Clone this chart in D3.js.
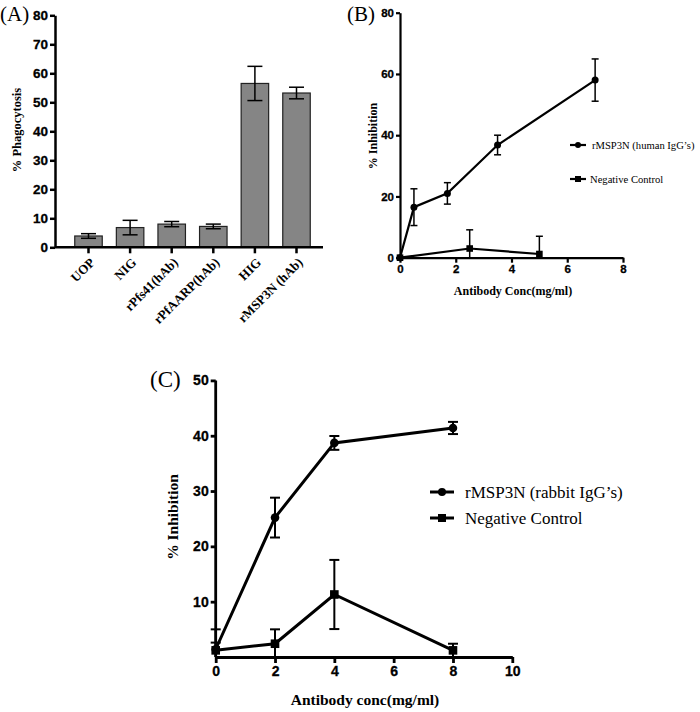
<!DOCTYPE html>
<html>
<head>
<meta charset="utf-8">
<script src="https://cdn.jsdelivr.net/npm/d3@7"></script>
<style>
  html, body { margin: 0; padding: 0; background: #fff; }
  svg { display: block; }
</style>
</head>
<body>
<svg id="chart" width="700" height="712"></svg>
<script>
// ---------- Data ----------
// Panel A
const categoriesA = ["UOP", "NIG", "rPfs41(hAb)", "rPfAARP(hAb)", "HIG", "rMSP3N (hAb)"];
const phagocytosis = [3.9, 6.8, 8.0, 7.2, 56.5, 53.2];
const phagocytosisErr = [0.8, 2.5, 0.9, 0.8, 5.9, 2.0];
const ticksA = [0, 10, 20, 30, 40, 50, 60, 70, 80];

// Panel B
const concHumanB = [0, 0.5, 1.7, 3.5, 7];
const inhibHumanB = [0, 16.5, 21.0, 36.8, 58.0];
const errHumanB = [0, 6.0, 3.5, 3.2, 6.9];
const concNegB = [0, 2.5, 5];
const inhibNegB = [0, 3.0, 1.2];
const errNegB = [0, 6.1, 5.8];
const xTicksB = [0, 2, 4, 6, 8];
const yTicksB = [0, 20, 40, 60, 80];
const seriesNamesB = ["rMSP3N (human IgG\u2019s)", "Negative Control"];

// Panel C
const concC = [0, 2, 4, 8];
const inhibRabbitC = [1.4, 25.2, 38.7, 41.4];
const errRabbitC = [3.6, 3.6, 1.25, 1.1];
const inhibNegC = [1.2, 2.4, 11.3, 1.2];
const errNegC = [1.4, 2.6, 6.25, 1.2];
const xTicksC = [0, 2, 4, 6, 8, 10];
const yTicksC = [10, 20, 30, 40, 50];
const seriesNamesC = ["rMSP3N (rabbit IgG\u2019s)", "Negative Control"];

const SERIF = "'Liberation Serif', 'Times New Roman', serif";
const SANS = "'Liberation Sans', Arial, sans-serif";
const svg = d3.select("#chart");

// ---------- helpers ----------
function styleAxis(g, width, fontSize) {
  g.select(".domain").attr("stroke", "#000").attr("stroke-width", width);
  g.selectAll(".tick line").attr("stroke", "#000").attr("stroke-width", width);
  g.selectAll(".tick text")
    .attr("font-family", SANS).attr("font-weight", "bold")
    .attr("font-size", fontSize).attr("fill", "#000")
    .attr("stroke", "#000").attr("stroke-width", 0.3);
}

function serifText(g, size, bold) {
  return g.append("text").attr("font-family", SERIF).attr("font-size", size)
    .attr("font-weight", bold ? "bold" : "normal").attr("fill", "#000");
}

function drawSeries(g, xs, ys, errs, x, y, opt) {
  const pts = xs.map((d, i) => ({ x: d, y: ys[i], e: errs[i] }));
  g.append("path")
    .datum(pts)
    .attr("fill", "none")
    .attr("stroke", "#000")
    .attr("stroke-width", opt.lw)
    .attr("d", d3.line().x(d => x(d.x)).y(d => y(d.y)));
  pts.forEach(p => {
    if (!p.e) return;
    const top = p.y + p.e, bot = Math.max(0, p.y - p.e);
    const cx = x(p.x);
    g.append("line").attr("x1", cx).attr("x2", cx).attr("y1", y(top)).attr("y2", y(bot))
      .attr("stroke", "#000").attr("stroke-width", opt.ew);
    g.append("line").attr("x1", cx - opt.cap).attr("x2", cx + opt.cap).attr("y1", y(top)).attr("y2", y(top))
      .attr("stroke", "#000").attr("stroke-width", opt.ew);
    if (p.y - p.e >= 0) {
      g.append("line").attr("x1", cx - opt.cap).attr("x2", cx + opt.cap).attr("y1", y(bot)).attr("y2", y(bot))
        .attr("stroke", "#000").attr("stroke-width", opt.ew);
    }
  });
  pts.forEach(p => {
    if (opt.shape === "circle") {
      g.append("circle").attr("cx", x(p.x)).attr("cy", y(p.y)).attr("r", opt.ms).attr("fill", "#000");
    } else {
      g.append("rect").attr("x", x(p.x) - opt.ms).attr("y", y(p.y) - opt.ms)
        .attr("width", opt.ms * 2).attr("height", opt.ms * 2).attr("fill", "#000");
    }
  });
}

function legendItem(g, x0, x1, yy, shape, ms, lw, label, tx, fs) {
  g.append("line").attr("x1", x0).attr("x2", x1).attr("y1", yy).attr("y2", yy)
    .attr("stroke", "#000").attr("stroke-width", lw);
  const cx = (x0 + x1) / 2;
  if (shape === "circle") g.append("circle").attr("cx", cx).attr("cy", yy).attr("r", ms).attr("fill", "#000");
  else g.append("rect").attr("x", cx - ms).attr("y", yy - ms).attr("width", ms * 2).attr("height", ms * 2).attr("fill", "#000");
  serifText(g, fs, false).attr("x", tx).attr("y", yy).attr("dy", "0.35em").text(label);
}

// ---------- Panel A ----------
{
  const g = svg.append("g");
  const y = d3.scaleLinear().domain([0, 80]).range([247.3, 15.3]);
  const x = d3.scalePoint().domain(categoriesA).range([88.5, 296.5]);
  const bw = 27.5;

  g.selectAll("rect.bar").data(categoriesA).enter().append("rect")
    .attr("class", "bar")
    .attr("x", d => x(d) - bw / 2)
    .attr("width", bw)
    .attr("y", (d, i) => y(phagocytosis[i]))
    .attr("height", (d, i) => y(0) - y(phagocytosis[i]))
    .attr("fill", "#858585")
    .attr("stroke", "#222")
    .attr("stroke-width", 1.2);

  categoriesA.forEach((c, i) => {
    const cx = x(c), t = phagocytosis[i] + phagocytosisErr[i], b = phagocytosis[i] - phagocytosisErr[i];
    g.append("line").attr("x1", cx).attr("x2", cx).attr("y1", y(t)).attr("y2", y(b)).attr("stroke", "#000").attr("stroke-width", 1.5);
    [t, b].forEach(v => g.append("line").attr("x1", cx - 7.5).attr("x2", cx + 7.5).attr("y1", y(v)).attr("y2", y(v)).attr("stroke", "#000").attr("stroke-width", 1.5));
  });

  const ya = g.append("g").attr("transform", "translate(55,0)")
    .call(d3.axisLeft(y).tickValues(ticksA).tickSize(5).tickSizeOuter(0).tickPadding(2));
  styleAxis(ya, 2.5, 13.5);

  g.append("line").attr("x1", 55).attr("x2", 323).attr("y1", y(0)).attr("y2", y(0)).attr("stroke", "#000").attr("stroke-width", 2.5);
  categoriesA.forEach(c => {
    g.append("line").attr("x1", x(c)).attr("x2", x(c)).attr("y1", y(0)).attr("y2", y(0) + 6).attr("stroke", "#000").attr("stroke-width", 2.5);
    serifText(g, 13, true)
      .attr("text-anchor", "end")
      .attr("transform", `translate(${x(c) + 7},${y(0) + 16}) rotate(-45)`)
      .text(c);
  });

  serifText(g, 12.5, true)
    .attr("text-anchor", "middle").attr("transform", "translate(21,130) rotate(-90)")
    .text("% Phagocytosis");

  serifText(g, 21, false).attr("x", 0).attr("y", 21).text("(A)");
}

// ---------- Panel B ----------
{
  const g = svg.append("g");
  const x = d3.scaleLinear().domain([0, 8]).range([400, 623]);
  const y = d3.scaleLinear().domain([0, 80]).range([257.7, 12.7]);

  drawSeries(g, concHumanB, inhibHumanB, errHumanB, x, y, { lw: 2.2, ew: 1.5, cap: 3.5, shape: "circle", ms: 3.5 });
  drawSeries(g, concNegB, inhibNegB, errNegB, x, y, { lw: 2.2, ew: 1.5, cap: 3.5, shape: "square", ms: 3.3 });

  const ya = g.append("g").attr("transform", `translate(${x(0)},0)`)
    .call(d3.axisLeft(y).tickValues(yTicksB).tickSize(4).tickSizeOuter(0).tickPadding(2));
  styleAxis(ya, 2.2, 11.5);
  const xa = g.append("g").attr("transform", `translate(0,${y(0)})`)
    .call(d3.axisBottom(x).tickValues(xTicksB).tickSize(5).tickSizeOuter(0).tickPadding(2));
  styleAxis(xa, 2.2, 11.5);

  serifText(g, 12, true).attr("text-anchor", "middle").attr("x", 513).attr("y", 295).text("Antibody Conc(mg/ml)");
  serifText(g, 12, true).attr("text-anchor", "middle").attr("transform", "translate(377,136) rotate(-90)").text("% Inhibition");

  legendItem(g, 570, 586, 145, "circle", 3, 2.2, seriesNamesB[0], 592, 10.6);
  legendItem(g, 570, 586, 179, "square", 3, 2.2, seriesNamesB[1], 590, 10.6);

  serifText(g, 21, false).attr("x", 347).attr("y", 21).text("(B)");
}

// ---------- Panel C ----------
{
  const g = svg.append("g");
  const x = d3.scaleLinear().domain([0, 10]).range([215.7, 512.3]);
  const y = d3.scaleLinear().domain([0, 50]).range([657, 380.4]);

  drawSeries(g, concC, inhibRabbitC, errRabbitC, x, y, { lw: 3, ew: 2, cap: 5, shape: "circle", ms: 4.3 });
  drawSeries(g, concC, inhibNegC, errNegC, x, y, { lw: 3, ew: 2, cap: 5, shape: "square", ms: 4.3 });

  const ya = g.append("g").attr("transform", `translate(${x(0)},0)`)
    .call(d3.axisLeft(y).tickValues(yTicksC).tickSize(5).tickSizeOuter(0).tickPadding(2));
  styleAxis(ya, 2.8, 14);
  ya.select(".domain").attr("d", `M0,${y(50)}V${y(0)}`);
  const xa = g.append("g").attr("transform", `translate(0,${y(0)})`)
    .call(d3.axisBottom(x).tickValues(xTicksC).tickSize(6).tickSizeOuter(0).tickPadding(3));
  styleAxis(xa, 2.8, 14);

  serifText(g, 15.5, true).attr("text-anchor", "middle").attr("x", 365).attr("y", 705).text("Antibody conc(mg/ml)");
  serifText(g, 15.5, true).attr("text-anchor", "middle").attr("transform", "translate(178,517) rotate(-90)").text("% Inhibition");

  legendItem(g, 430, 454, 492, "circle", 4, 3, seriesNamesC[0], 465, 17);
  legendItem(g, 430, 454, 518, "square", 4, 3, seriesNamesC[1], 465, 17);

  serifText(g, 23, false).attr("x", 150).attr("y", 387).text("(C)");
}
</script>
</body>
</html>
